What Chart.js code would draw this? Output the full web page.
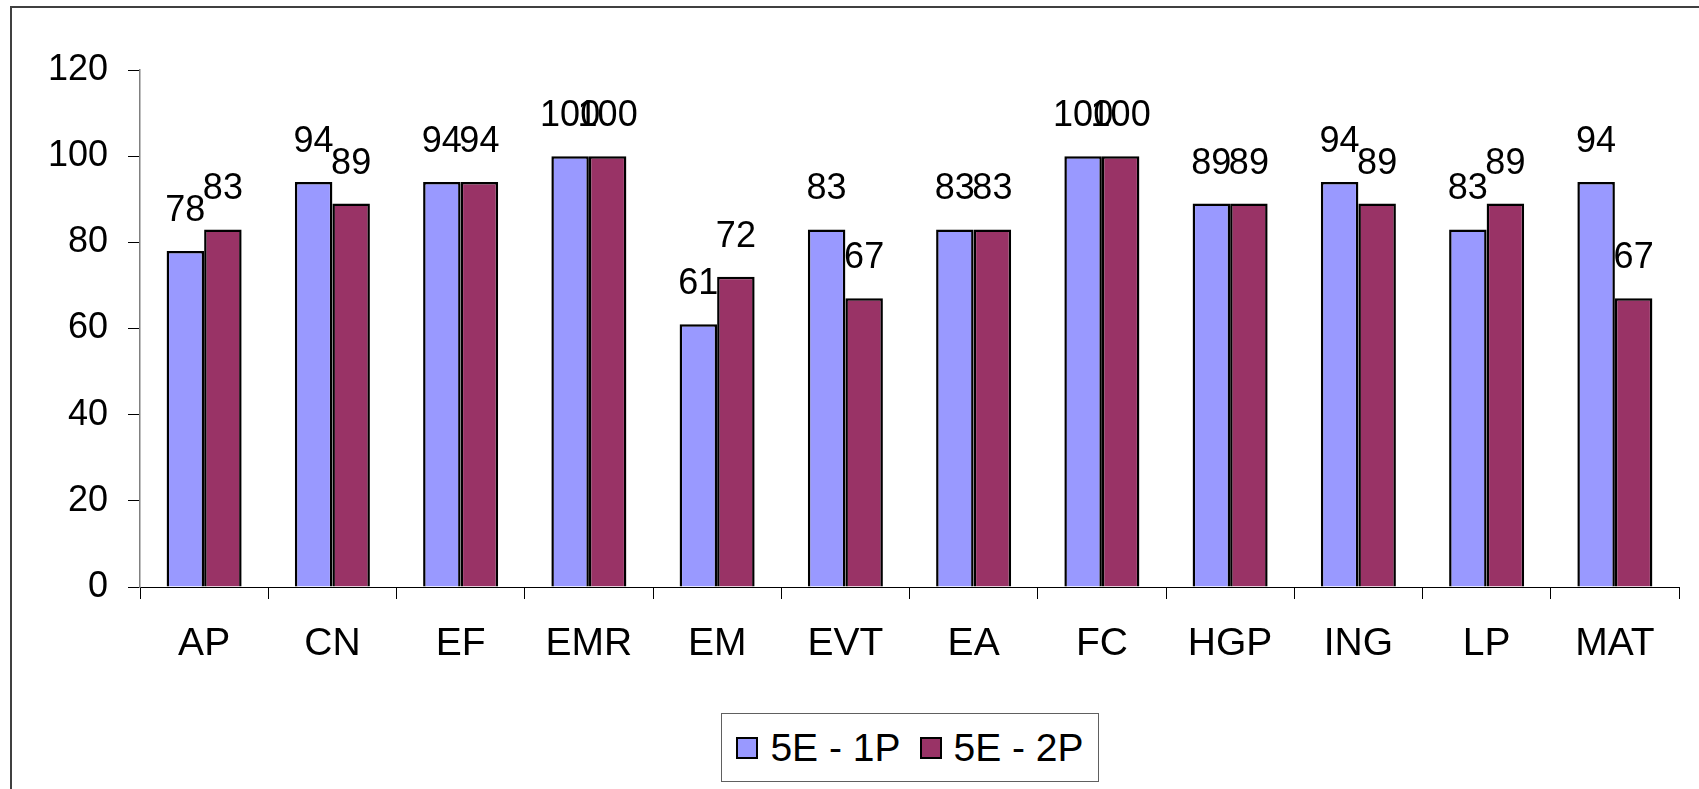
<!DOCTYPE html>
<html>
<head>
<meta charset="utf-8">
<script src="https://cdn.jsdelivr.net/npm/chart.js@4"></script>
<style>
  html, body { margin: 0; padding: 0; background: #fff; }
  #wrap { position: relative; width: 1699px; height: 789px; overflow: hidden; }
  #frame { position: absolute; left: 10px; top: 6px; width: 1720px; height: 820px;
           border-left: 2px solid #404040; border-top: 2px solid #404040; }
  #chart { position: absolute; left: 0; top: 0; }
  #legend { position: absolute; left: 721px; top: 713px; width: 378px; height: 69px;
            border: 1px solid #606060; background: #fff; box-sizing: border-box;
            display: flex; align-items: center; justify-content: center;
            font-family: "Liberation Sans", Arial, sans-serif; font-size: 39px; color: #000;
            white-space: nowrap; }
  .item { display: flex; align-items: center; }
  .item + .item { margin-left: 19px; }
  .swatch { width: 22px; height: 22px; border: 2px solid #000; margin-right: 12px; box-sizing: border-box; }
</style>
</head>
<body>
<div id="wrap">
  <div id="frame"></div>
  <canvas id="chart" width="1699" height="789"></canvas>
  <div id="legend"></div>
</div>
<script>
// Données du graphique
const categories = ['AP', 'CN', 'EF', 'EMR', 'EM', 'EVT', 'EA', 'FC', 'HGP', 'ING', 'LP', 'MAT'];
const seriesNames = ['5E - 1P', '5E - 2P'];
const values1P = [78, 94, 94, 100, 61, 83, 83, 100, 89, 94, 83, 94];
const values2P = [83, 89, 94, 100, 72, 67, 83, 100, 89, 89, 89, 67];
const yTicks = [0, 20, 40, 60, 80, 100, 120];
const colors = ['#9999FF', '#993366'];

const fontFamily = '"Liberation Sans", Arial, sans-serif';
const numFont = { family: fontFamily, size: 36 };
const catFont = { family: fontFamily, size: 39 };

// Étiquettes de valeurs au-dessus des barres
const valueLabels = {
    id: 'valueLabels',
    afterDatasetsDraw(chart) {
        const ctx = chart.ctx;
        ctx.save();
        ctx.font = numFont.size + 'px ' + fontFamily;
        ctx.fillStyle = '#000';
        ctx.textAlign = 'center';
        ctx.textBaseline = 'alphabetic';
        chart.data.datasets.forEach((ds, i) => {
            chart.getDatasetMeta(i).data.forEach((bar, j) => {
                ctx.fillText(String(ds.data[j]), bar.x, bar.y - 30);
            });
        });
        ctx.restore();
    }
};

new Chart(document.getElementById('chart'), {
    type: 'bar',
    data: {
        labels: categories,
        datasets: [
            { label: seriesNames[0], data: values1P, backgroundColor: colors[0], borderColor: '#000', borderWidth: 2.5 },
            { label: seriesNames[1], data: values2P, backgroundColor: colors[1], borderColor: '#000', borderWidth: 2.5 }
        ]
    },
    options: {
        responsive: false,
        animation: false,
        layout: { padding: { left: 0, right: 20, top: 70, bottom: 0 } },
        datasets: { bar: { categoryPercentage: 0.585, barPercentage: 1 } },
        scales: {
            x: {
                grid: { display: true, drawOnChartArea: false, drawTicks: true, tickLength: 12, color: '#000', offset: true },
                border: { color: '#000', width: 1 },
                ticks: { color: '#000', font: catFont, padding: 22, maxRotation: 0 },
                afterFit(scale) { scale.height = 202; }
            },
            y: {
                min: 0, max: 120,
                afterBuildTicks(scale) { scale.ticks = yTicks.map(v => ({ value: v })); },
                grid: { display: true, drawOnChartArea: false, drawTicks: true, tickLength: 12, color: '#000' },
                border: { color: '#808080', width: 1.5 },
                ticks: { color: '#000', font: numFont, padding: 20 },
                afterFit(scale) { scale.width = 140; }
            }
        },
        plugins: {
            legend: { display: false },
            tooltip: { enabled: false }
        }
    },
    plugins: [valueLabels]
});

// Légende HTML
const legend = document.getElementById('legend');
seriesNames.forEach((name, i) => {
    const item = document.createElement('div');
    item.className = 'item';
    const sw = document.createElement('span');
    sw.className = 'swatch';
    sw.style.background = colors[i];
    const txt = document.createElement('span');
    txt.textContent = name;
    item.appendChild(sw);
    item.appendChild(txt);
    legend.appendChild(item);
});
</script>
</body>
</html>
